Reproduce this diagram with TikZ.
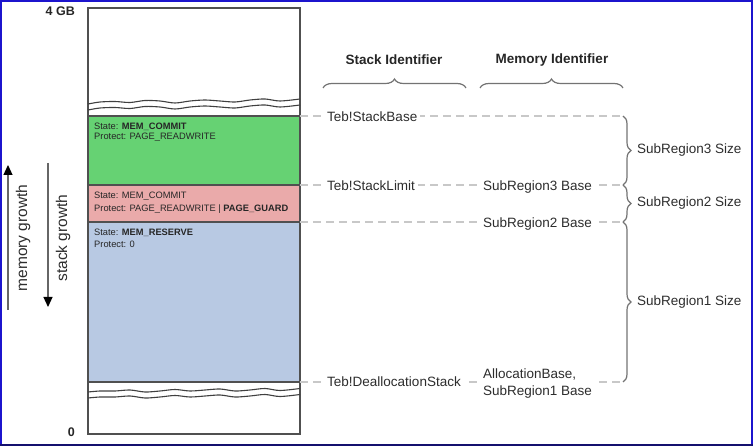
\documentclass[tikz,border=0pt]{standalone}
\usepackage{fontspec}
\setmainfont{Liberation Sans}
\usetikzlibrary{decorations.pathreplacing,arrows.meta}
\definecolor{frameblue}{RGB}{28,20,205}
\definecolor{framenavy}{RGB}{20,16,110}
\definecolor{boxline}{RGB}{80,80,80}
\definecolor{gcol}{RGB}{102,210,115}
\definecolor{pcol}{RGB}{234,170,170}
\definecolor{bcol}{RGB}{184,201,227}
\definecolor{dashgray}{RGB}{200,200,200}
\definecolor{bracegray}{RGB}{115,115,115}
\definecolor{txtgray}{RGB}{45,45,45}
\tikzset{
  region/.style={draw=boxline, line width=1.2pt},
  wave/.style={draw=black!75, line width=1.1pt},
  guide/.style={draw=dashgray, line width=1.2pt, dash pattern=on 8pt off 5pt},
  bracedeco/.style={draw=bracegray, line width=1.2pt, decorate, decoration={brace, amplitude=#1}},
  lbl/.style={font=\fontsize{13.5}{16}\selectfont, text=txtgray, inner sep=0pt, anchor=base west},
  onlinelbl/.style={lbl, fill=white, inner xsep=3pt, inner ysep=1pt},
  hdr/.style={font=\fontsize{13.5}{16}\selectfont\bfseries, text=black!85, inner sep=0pt},
  small/.style={font=\fontsize{9.3}{11}\selectfont, text=black!85, inner sep=0pt, anchor=base west},
  growth/.style={font=\fontsize{15.5}{18}\selectfont, text=txtgray, inner sep=0pt, rotate=90},
  growarrow/.style={draw=black!60, line width=1.2pt, -{Triangle[length=10pt,width=9pt,color=black,fill=black]}},
}
\begin{document}
\begin{tikzpicture}[x=1pt,y=-1pt]
\useasboundingbox (0,0) rectangle (753,446);
% frame
\draw[frameblue, line width=2pt] (1,444.5) -- (1,1) -- (751.5,1) -- (751.5,444.5);
\draw[framenavy, line width=2pt] (0,444.8) -- (752.5,444.8);

% memory column
\draw[region, fill=white] (88,8) rectangle (300,434);
\draw[region, fill=gcol] (88,116) rectangle (300,185);
\draw[region, fill=pcol] (88,185) rectangle (300,222);
\draw[region, fill=bcol] (88,222) rectangle (300,382);

% upper break
\draw[wave] plot[smooth] coordinates {(88,104) (100,102) (115,101.5) (130,102.5) (145,100.5) (160,101) (175,103) (190,101) (205,100) (220,101) (235,102) (250,100) (265,99) (280,101) (300,99)};
\draw[wave] plot[smooth] coordinates {(88,110) (100,108) (115,107.5) (130,108.5) (145,106.5) (160,107) (175,109) (190,107) (205,106) (220,107) (235,108) (250,106) (265,105) (280,107) (300,105)};
% lower break
\draw[wave] plot[smooth] coordinates {(88,392) (100,391) (115,391) (130,390) (145,392) (160,391) (175,389.5) (190,391) (205,390) (220,389) (235,391) (250,390) (265,388.5) (280,390.5) (300,388.5)};
\draw[wave] plot[smooth] coordinates {(88,398) (100,397) (115,397) (130,396) (145,398) (160,397) (175,395.5) (190,397) (205,396) (220,395) (235,397) (250,396) (265,394.5) (280,396.5) (300,394.5)};

% axis labels
\node[hdr, anchor=base east] (top) at (75,15.5) {\fontsize{12.5}{14}\selectfont 4 GB};
\node[hdr, anchor=base east] (bottom) at (75,437) {\fontsize{12.5}{14}\selectfont 0};

% region texts
\node[small] (g1) at (94,129.5) {State: \textbf{MEM\_COMMIT}};
\node[small] (g2) at (94,140) {Protect: PAGE\_READWRITE};
\node[small] (p1) at (94,199) {State: MEM\_COMMIT};
\node[small] (p2) at (94,212) {Protect: PAGE\_READWRITE | \textbf{PAGE\_GUARD}};
\node[small] (b1) at (94,236) {State: \textbf{MEM\_RESERVE}};
\node[small] (b2) at (94,248) {Protect: 0};

% growth arrows
\coordinate (mg1) at (8,310);
\coordinate (mg2) at (8,165);
\coordinate (sg1) at (48,163);
\coordinate (sg2) at (48,307);
\draw[growarrow] (mg1) -- (mg2);
\draw[growarrow] (sg1) -- (sg2);
\node[growth] (mgl) at (23,238) {memory growth};
\node[growth] (sgl) at (63,238) {stack growth};

% headers and braces
\node[hdr] (sid) at (394,60) {Stack Identifier};
\node[hdr] (mid) at (552,60) {Memory Identifier};
\coordinate (sb1) at (323,88);
\coordinate (sb2) at (466,88);
\coordinate (mb1) at (480,88);
\coordinate (mb2) at (623,88);
\draw[bracedeco=9pt] (sb1) -- (sb2);
\draw[bracedeco=9pt] (mb1) -- (mb2);

% guide lines
\coordinate (l1a) at (300,116); \coordinate (l1b) at (623,116);
\coordinate (l2a) at (300,185); \coordinate (l2b) at (623,185);
\coordinate (l3a) at (300,222); \coordinate (l3b) at (623,222);
\coordinate (l4a) at (300,382); \coordinate (l4b) at (623,382);
\draw[guide] (l1a) -- (l1b);
\draw[guide] (l2a) -- (l2b);
\draw[guide] (l3a) -- (l3b);
\draw[guide] (l4a) -- (l4b);

\node[onlinelbl] (tsb) at (324,121.5) {Teb!StackBase};
\node[onlinelbl] (tsl) at (324,190.5) {Teb!StackLimit};
\node[onlinelbl] (s3b) at (480,190.5) {SubRegion3 Base};
\node[onlinelbl] (s2b) at (480,227.5) {SubRegion2 Base};
\node[onlinelbl] (tds) at (324,387) {Teb!DeallocationStack};
\node[onlinelbl, anchor=west, align=left, font=\fontsize{13.5}{17}\selectfont] (ab) at (480,384) {AllocationBase,\\SubRegion1 Base};

% size braces
\draw[bracedeco=8pt] (l1b) -- (l2b);
\draw[bracedeco=8pt] (l2b) -- (l3b);
\draw[bracedeco=8pt] (l3b) -- (l4b);
\node[lbl, anchor=west] (s3s) at (637,150.5) {SubRegion3 Size};
\node[lbl, anchor=west] (s2s) at (637,203.5) {SubRegion2 Size};
\node[lbl, anchor=west] (s1s) at (637,302) {SubRegion1 Size};
\end{tikzpicture}
\end{document}
